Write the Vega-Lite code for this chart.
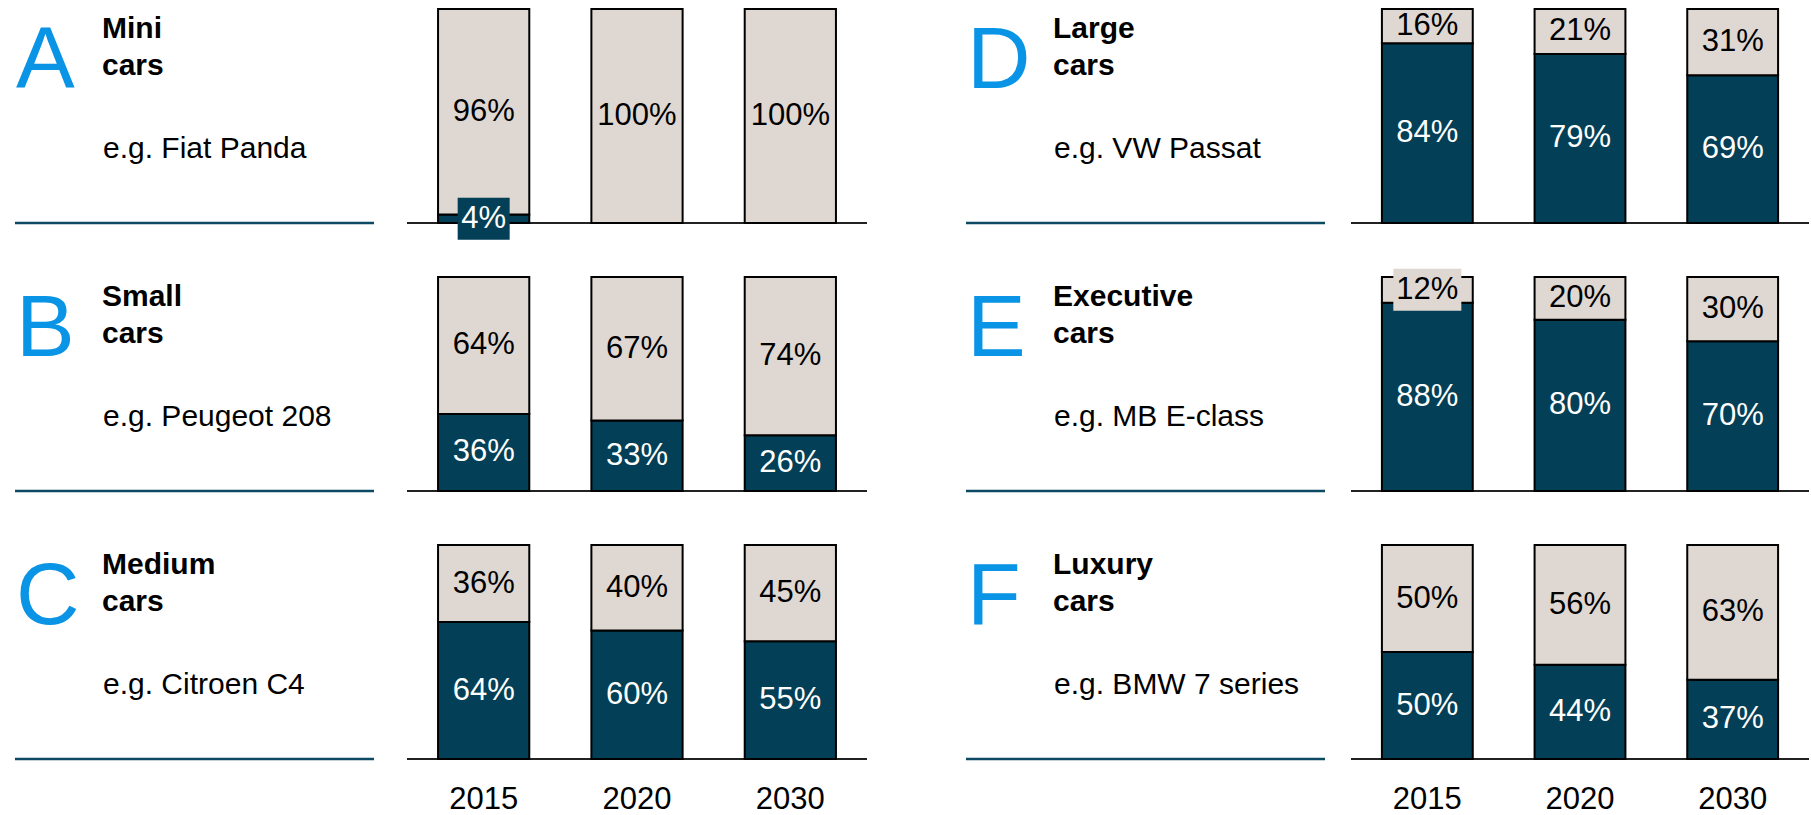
{
  "$schema": "https://vega.github.io/schema/vega-lite/v6.json",
  "padding": {"left": 13, "top": 8, "right": 0, "bottom": 0},
  "spacing": 96,
  "config": {
    "view": {"stroke": null},
    "font": "Liberation Sans",
    "text": {"font": "Liberation Sans"},
    "axis": {"labelFont": "Liberation Sans"}
  },
  "datasets": {
    "panels": [
      {"letter": "A", "col": "L", "row": 1, "title": "Mini\ncars", "example": "e.g. Fiat Panda"},
      {"letter": "B", "col": "L", "row": 2, "title": "Small\ncars", "example": "e.g. Peugeot 208"},
      {"letter": "C", "col": "L", "row": 3, "title": "Medium\ncars", "example": "e.g. Citroen C4"},
      {"letter": "D", "col": "R", "row": 1, "title": "Large\ncars", "example": "e.g. VW Passat"},
      {"letter": "E", "col": "R", "row": 2, "title": "Executive\ncars", "example": "e.g. MB E-class"},
      {"letter": "F", "col": "R", "row": 3, "title": "Luxury\ncars", "example": "e.g. BMW 7 series"}
    ],
    "shares": [
      {"letter": "A", "year": "2015", "segment": "S1", "value": 4},
      {"letter": "A", "year": "2015", "segment": "S2", "value": 96},
      {"letter": "A", "year": "2020", "segment": "S1", "value": 0},
      {"letter": "A", "year": "2020", "segment": "S2", "value": 100},
      {"letter": "A", "year": "2030", "segment": "S1", "value": 0},
      {"letter": "A", "year": "2030", "segment": "S2", "value": 100},
      {"letter": "B", "year": "2015", "segment": "S1", "value": 36},
      {"letter": "B", "year": "2015", "segment": "S2", "value": 64},
      {"letter": "B", "year": "2020", "segment": "S1", "value": 33},
      {"letter": "B", "year": "2020", "segment": "S2", "value": 67},
      {"letter": "B", "year": "2030", "segment": "S1", "value": 26},
      {"letter": "B", "year": "2030", "segment": "S2", "value": 74},
      {"letter": "C", "year": "2015", "segment": "S1", "value": 64},
      {"letter": "C", "year": "2015", "segment": "S2", "value": 36},
      {"letter": "C", "year": "2020", "segment": "S1", "value": 60},
      {"letter": "C", "year": "2020", "segment": "S2", "value": 40},
      {"letter": "C", "year": "2030", "segment": "S1", "value": 55},
      {"letter": "C", "year": "2030", "segment": "S2", "value": 45},
      {"letter": "D", "year": "2015", "segment": "S1", "value": 84},
      {"letter": "D", "year": "2015", "segment": "S2", "value": 16},
      {"letter": "D", "year": "2020", "segment": "S1", "value": 79},
      {"letter": "D", "year": "2020", "segment": "S2", "value": 21},
      {"letter": "D", "year": "2030", "segment": "S1", "value": 69},
      {"letter": "D", "year": "2030", "segment": "S2", "value": 31},
      {"letter": "E", "year": "2015", "segment": "S1", "value": 88},
      {"letter": "E", "year": "2015", "segment": "S2", "value": 12},
      {"letter": "E", "year": "2020", "segment": "S1", "value": 80},
      {"letter": "E", "year": "2020", "segment": "S2", "value": 20},
      {"letter": "E", "year": "2030", "segment": "S1", "value": 70},
      {"letter": "E", "year": "2030", "segment": "S2", "value": 30},
      {"letter": "F", "year": "2015", "segment": "S1", "value": 50},
      {"letter": "F", "year": "2015", "segment": "S2", "value": 50},
      {"letter": "F", "year": "2020", "segment": "S1", "value": 44},
      {"letter": "F", "year": "2020", "segment": "S2", "value": 56},
      {"letter": "F", "year": "2030", "segment": "S1", "value": 37},
      {"letter": "F", "year": "2030", "segment": "S2", "value": 63}
    ]
  },
  "hconcat": [
    {
      "spacing": 30,
      "hconcat": [
        {
          "data": {"name": "panels"},
          "transform": [{"filter": "datum.col == 'L'"}],
          "bounds": "flush",
          "facet": {"row": {"field": "row", "type": "ordinal", "header": null}},
          "spacing": {"row": 54},
          "spec": {
            "width": 359, "height": 214,
            "layer": [
              {"mark": {"type": "text", "align": "left", "baseline": "alphabetic", "fontSize": 88, "color": "#0a94e6"},
               "encoding": {"text": {"field": "letter"}, "x": {"value": 1}, "y": {"value": 79}}},
              {"mark": {"type": "text", "align": "left", "baseline": "alphabetic", "fontSize": 30, "fontWeight": "bold", "lineBreak": "\n", "lineHeight": 37, "color": "black"},
               "encoding": {"text": {"field": "title"}, "x": {"value": 87}, "y": {"value": 29}}},
              {"mark": {"type": "text", "align": "left", "baseline": "alphabetic", "fontSize": 30, "color": "black"},
               "encoding": {"text": {"field": "example"}, "x": {"value": 88}, "y": {"value": 149}}},
              {"mark": {"type": "rule", "color": "#0b4a62", "strokeWidth": 2.5},
               "encoding": {"x": {"value": 0}, "x2": {"value": "width"}, "y": {"value": "height"}}}
            ]
          }
        },
        {
          "data": {"name": "shares"},
          "transform": [
            {"lookup": "letter", "from": {"data": {"name": "panels"}, "key": "letter", "fields": ["row", "col"]}},
            {"filter": "datum.col == 'L'"},
            {"stack": "value", "groupby": ["letter", "year"], "sort": [{"field": "segment", "order": "ascending"}], "as": ["v0", "v1"]},
            {"calculate": "(datum.v0 + datum.v1) / 2", "as": "mid"},
            {"calculate": "datum.mid + 9.8", "as": "bt"},
            {"calculate": "datum.mid - 9.8", "as": "bb"},
            {"calculate": "datum.value + '%'", "as": "label"}
          ],
          "bounds": "flush",
          "facet": {"row": {"field": "row", "type": "ordinal", "header": null}},
          "spacing": {"row": 54},
          "spec": {
            "width": 460, "height": 214,
            "encoding": {
              "x": {"field": "year", "type": "ordinal", "scale": {"paddingInner": 0.405, "paddingOuter": 0.2025},
                    "axis": {"title": null, "domain": false, "ticks": false, "labelAngle": 0, "labelFontSize": 31, "labelColor": "black", "labelBaseline": "alphabetic", "labelPadding": 49}}
            },
            "layer": [
              {"mark": {"type": "rule", "color": "#222222", "strokeWidth": 2},
               "encoding": {"x": {"value": 0}, "x2": {"value": "width"}, "y": {"value": "height"}}},
              {"transform": [{"filter": "datum.value > 0"}],
               "mark": {"type": "bar", "stroke": "black", "strokeWidth": 2},
               "encoding": {
                 "y": {"field": "v1", "type": "quantitative", "scale": {"domain": [0, 100]}, "axis": null},
                 "y2": {"field": "v0"},
                 "color": {"field": "segment", "type": "nominal", "scale": {"domain": ["S1", "S2"], "range": ["#033f56", "#dfd7d1"]}, "legend": null}
               }},
              {"transform": [{"filter": "datum.value > 0 && datum.value < 15"}],
               "mark": {"type": "bar"},
               "encoding": {
                 "y": {"field": "bt", "type": "quantitative", "scale": {"domain": [0, 100]}, "axis": null},
                 "y2": {"field": "bb"},
                 "size": {"condition": {"test": "datum.value < 10", "value": 52}, "value": 68},
                 "color": {"field": "segment", "type": "nominal", "legend": null}
               }},
              {"transform": [{"filter": "datum.value > 0"}],
               "mark": {"type": "text", "fontSize": 31, "baseline": "middle", "align": "center"},
               "encoding": {
                 "y": {"field": "mid", "type": "quantitative", "scale": {"domain": [0, 100]}, "axis": null},
                 "text": {"field": "label"},
                 "color": {"condition": {"test": "datum.segment == 'S1'", "value": "white"}, "value": "black"}
               }}
            ]
          }
        }
      ]
    },
    {
      "spacing": 23,
      "hconcat": [
        {
          "data": {"name": "panels"},
          "transform": [{"filter": "datum.col == 'R'"}],
          "bounds": "flush",
          "facet": {"row": {"field": "row", "type": "ordinal", "header": null}},
          "spacing": {"row": 54},
          "spec": {
            "width": 359, "height": 214,
            "layer": [
              {"mark": {"type": "text", "align": "left", "baseline": "alphabetic", "fontSize": 88, "color": "#0a94e6"},
               "encoding": {"text": {"field": "letter"}, "x": {"value": 1}, "y": {"value": 79}}},
              {"mark": {"type": "text", "align": "left", "baseline": "alphabetic", "fontSize": 30, "fontWeight": "bold", "lineBreak": "\n", "lineHeight": 37, "color": "black"},
               "encoding": {"text": {"field": "title"}, "x": {"value": 87}, "y": {"value": 29}}},
              {"mark": {"type": "text", "align": "left", "baseline": "alphabetic", "fontSize": 30, "color": "black"},
               "encoding": {"text": {"field": "example"}, "x": {"value": 88}, "y": {"value": 149}}},
              {"mark": {"type": "rule", "color": "#0b4a62", "strokeWidth": 2.5},
               "encoding": {"x": {"value": 0}, "x2": {"value": "width"}, "y": {"value": "height"}}}
            ]
          }
        },
        {
          "data": {"name": "shares"},
          "transform": [
            {"lookup": "letter", "from": {"data": {"name": "panels"}, "key": "letter", "fields": ["row", "col"]}},
            {"filter": "datum.col == 'R'"},
            {"stack": "value", "groupby": ["letter", "year"], "sort": [{"field": "segment", "order": "ascending"}], "as": ["v0", "v1"]},
            {"calculate": "(datum.v0 + datum.v1) / 2", "as": "mid"},
            {"calculate": "datum.mid + 9.8", "as": "bt"},
            {"calculate": "datum.mid - 9.8", "as": "bb"},
            {"calculate": "datum.value + '%'", "as": "label"}
          ],
          "bounds": "flush",
          "facet": {"row": {"field": "row", "type": "ordinal", "header": null}},
          "spacing": {"row": 54},
          "spec": {
            "width": 458, "height": 214,
            "encoding": {
              "x": {"field": "year", "type": "ordinal", "scale": {"paddingInner": 0.405, "paddingOuter": 0.2025},
                    "axis": {"title": null, "domain": false, "ticks": false, "labelAngle": 0, "labelFontSize": 31, "labelColor": "black", "labelBaseline": "alphabetic", "labelPadding": 49}}
            },
            "layer": [
              {"mark": {"type": "rule", "color": "#222222", "strokeWidth": 2},
               "encoding": {"x": {"value": 0}, "x2": {"value": "width"}, "y": {"value": "height"}}},
              {"transform": [{"filter": "datum.value > 0"}],
               "mark": {"type": "bar", "stroke": "black", "strokeWidth": 2},
               "encoding": {
                 "y": {"field": "v1", "type": "quantitative", "scale": {"domain": [0, 100]}, "axis": null},
                 "y2": {"field": "v0"},
                 "color": {"field": "segment", "type": "nominal", "scale": {"domain": ["S1", "S2"], "range": ["#033f56", "#dfd7d1"]}, "legend": null}
               }},
              {"transform": [{"filter": "datum.value > 0 && datum.value < 15"}],
               "mark": {"type": "bar"},
               "encoding": {
                 "y": {"field": "bt", "type": "quantitative", "scale": {"domain": [0, 100]}, "axis": null},
                 "y2": {"field": "bb"},
                 "size": {"condition": {"test": "datum.value < 10", "value": 52}, "value": 68},
                 "color": {"field": "segment", "type": "nominal", "legend": null}
               }},
              {"transform": [{"filter": "datum.value > 0"}],
               "mark": {"type": "text", "fontSize": 31, "baseline": "middle", "align": "center"},
               "encoding": {
                 "y": {"field": "mid", "type": "quantitative", "scale": {"domain": [0, 100]}, "axis": null},
                 "text": {"field": "label"},
                 "color": {"condition": {"test": "datum.segment == 'S1'", "value": "white"}, "value": "black"}
               }}
            ]
          }
        }
      ]
    }
  ]
}
